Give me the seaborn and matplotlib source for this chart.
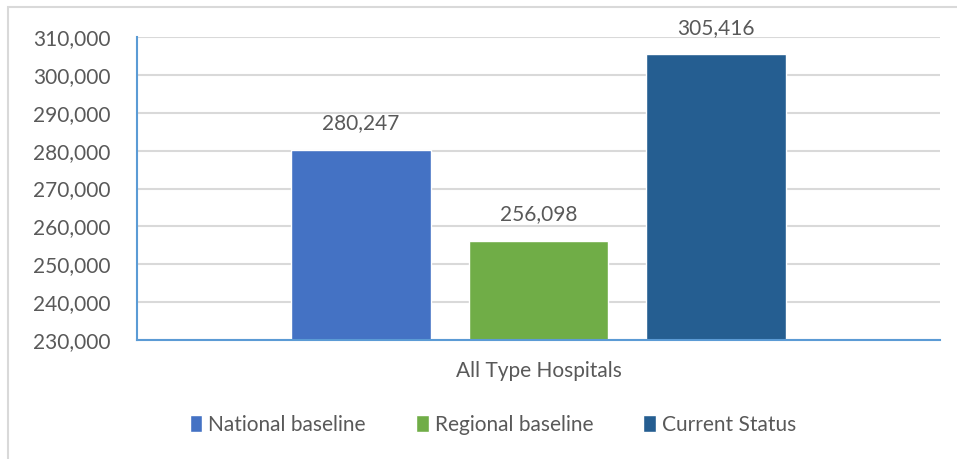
import matplotlib
matplotlib.use("Agg")
import matplotlib.pyplot as plt
from matplotlib.patches import Rectangle
from matplotlib.ticker import FuncFormatter, MultipleLocator
import pandas as pd
import seaborn as sns

category = ["All Type Hospitals"]
series = ["National baseline", "Regional baseline", "Current Status"]
values = [280247, 256098, 305416]
colors = ["#4472C4", "#70AD47", "#255E91"]

df = pd.DataFrame({"group": category * len(series), "series": series, "value": values})

sns.set_theme(style="white")
plt.rcParams["font.family"] = ["Lato", "DejaVu Sans"]
text_color = "#595959"
fs = 15

W, H = 957, 459
fig = plt.figure(figsize=(W / 100, H / 100), dpi=100)
ax = fig.add_axes([137 / W, 1 - 340 / H, (940 - 137) / W, (340 - 37) / H])

sns.barplot(data=df, x="group", y="value", hue="series", palette=colors,
            width=0.663, gap=0.213, saturation=1, ax=ax, legend=True)

ax.set_ylim(230000, 310000)
ax.set_xlim(-0.5, 0.5)
ax.yaxis.set_major_locator(MultipleLocator(10000))
ax.yaxis.set_major_formatter(FuncFormatter(lambda v, p: f"{int(v):,}"))
ax.grid(axis="y", color="#D9D9D9", linewidth=1.5)
ax.set_axisbelow(True)
ax.tick_params(axis="y", labelsize=fs, colors=text_color, length=0, pad=19)
ax.tick_params(axis="x", labelsize=fs, colors=text_color, length=0, pad=15)
ax.set_xlabel("")
ax.set_ylabel("")

for s in ["top", "right"]:
    ax.spines[s].set_visible(False)
for s in ["left", "bottom"]:
    ax.spines[s].set_color("#5B9BD5")
    ax.spines[s].set_linewidth(1.5)

for cont in ax.containers:
    ax.bar_label(cont, labels=[f"{v:,.0f}" for v in cont.datavalues],
                 padding=12, fontsize=fs, color=text_color)

handles, labels = ax.get_legend_handles_labels()
ax.get_legend().remove()
fig.legend(handles, labels, loc="center", bbox_to_anchor=(493 / W, 1 - 425 / H),
           ncol=3, frameon=False, fontsize=fs, labelcolor=text_color,
           handlelength=0.6, handleheight=0.9, handletextpad=0.3, columnspacing=2.4)

# chart area frame
fig.patches.append(Rectangle((8 / W, -0.05), 1.1, 1 - 7 / H + 0.05,
                             transform=fig.transFigure, fill=False,
                             edgecolor="#D9D9D9", linewidth=1.5))

fig.savefig("out.png", dpi=100)
